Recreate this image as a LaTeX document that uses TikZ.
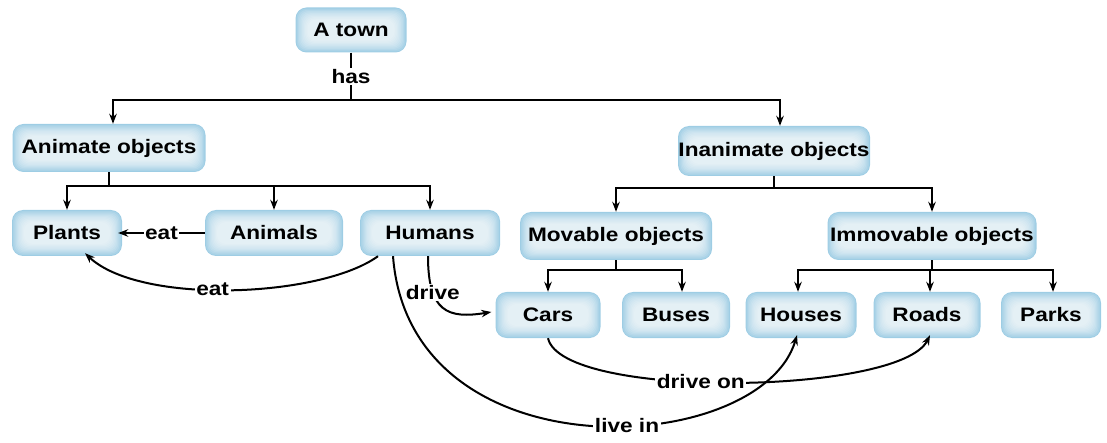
\documentclass[tikz,border=0pt]{standalone}
\usepackage{fontspec}
\setmainfont[FakeStretch=1.16]{Liberation Sans}
\usetikzlibrary{arrows.meta}
\definecolor{boxedge}{RGB}{158,205,228}
\tikzset{
  box/.style={rounded corners=11pt, fill=boxedge, minimum height=46pt,
    font=\fontsize{19.5}{22}\selectfont\bfseries, inner sep=0pt,
    path picture={
      \foreach \i in {1,...,10}{
        \fill[white, opacity=0.13, rounded corners=9pt]
          ([shift={(\i*1.2pt,\i*1.2pt)}]path picture bounding box.south west)
          rectangle ([shift={(-\i*1.2pt,-\i*1.2pt)}]path picture bounding box.north east);
      }
    }},
  conn/.style={line width=2pt, black},
  arr/.style={conn, -{Stealth[length=10pt,width=7.5pt]}},
  lab/.style={fill=white, inner sep=1.5pt, font=\fontsize{19.5}{22}\selectfont\bfseries}
}
\begin{document}
\begin{tikzpicture}[x=1pt,y=-1pt]
\useasboundingbox (0,0) rectangle (1107,443);
% nodes
\node[box, minimum width=111pt, minimum height=45pt] (town) at (351,30) {A town};
\node[box, minimum width=193pt, minimum height=48pt] (anim) at (109,148) {Animate objects};
\node[box, minimum width=192pt, minimum height=50pt] (inan) at (774,151) {Inanimate objects};
\node[box, minimum width=110pt] (plants) at (67,233) {Plants};
\node[box, minimum width=138pt] (animals) at (274,233) {Animals};
\node[box, minimum width=140pt] (humans) at (430,233) {Humans};
\node[box, minimum width=192pt, minimum height=48pt] (mov) at (616,236) {Movable objects};
\node[box, minimum width=209pt, minimum height=48pt] (immov) at (932,236) {Immovable objects};
\node[box, minimum width=105pt] (cars) at (548,315) {Cars};
\node[box, minimum width=108pt] (buses) at (676,315) {Buses};
\node[box, minimum width=111pt] (houses) at (801,315) {Houses};
\node[box, minimum width=107pt] (roads) at (927,315) {Roads};
\node[box, minimum width=100pt] (parks) at (1051,315) {Parks};
% junctions
\coordinate (j1) at (351,100);
\coordinate (j2) at (109,186);
\coordinate (j3) at (774,188);
\coordinate (j4) at (616,270);
\coordinate (j5) at (932,270);
% tree connectors
\draw[conn] (town.south) -- node[lab]{has} (j1);
\draw[arr] (j1) -| ([xshift=4pt]anim.north);
\draw[arr] (j1) -| ([xshift=6pt]inan.north);
\draw[conn] (anim.south) -- (j2);
\draw[arr] (j2) -| (plants.north);
\draw[arr] (j2) -| (animals.north);
\draw[arr] (j2) -| (humans.north);
\draw[conn] (inan.south) -- (j3);
\draw[arr] (j3) -| (mov.north);
\draw[arr] (j3) -| (immov.north);
\draw[conn] (mov.south) -- (j4);
\draw[arr] (j4) -| (cars.north);
\draw[arr] (j4) -| ([xshift=6pt]buses.north);
\draw[conn] (immov.south) -- (j5);
\draw[arr] (j5) -| ([xshift=-3pt]houses.north);
\draw[arr] (j5) -| ([xshift=3pt]roads.north);
\draw[arr] (j5) -| ([xshift=2pt]parks.north);
% cross links
\draw[arr] (animals.west) -- node[lab]{eat} ([xshift=-4pt]plants.east);
\draw[arr] ([xshift=-52pt]humans.south) .. controls (320,298) and (140,305) .. node[lab, pos=0.55]{eat} ([xshift=18pt,yshift=3pt]plants.south);
\draw[arr] ([xshift=-2pt]humans.south) .. controls (428,312) and (448,319) .. node[lab, pos=0.28]{drive} ([xshift=-4pt,yshift=3pt]cars.west);
\draw[arr] ([xshift=-37pt]humans.south) .. controls (410,478) and (760,458) .. node[lab, pos=0.57]{live in} ([xshift=-4pt,yshift=3pt]houses.south);
\draw[arr] (cars.south) .. controls (562,400) and (900,395) .. node[lab, pos=0.44]{drive on} ([xshift=3pt,yshift=3pt]roads.south);
\end{tikzpicture}
\end{document}
